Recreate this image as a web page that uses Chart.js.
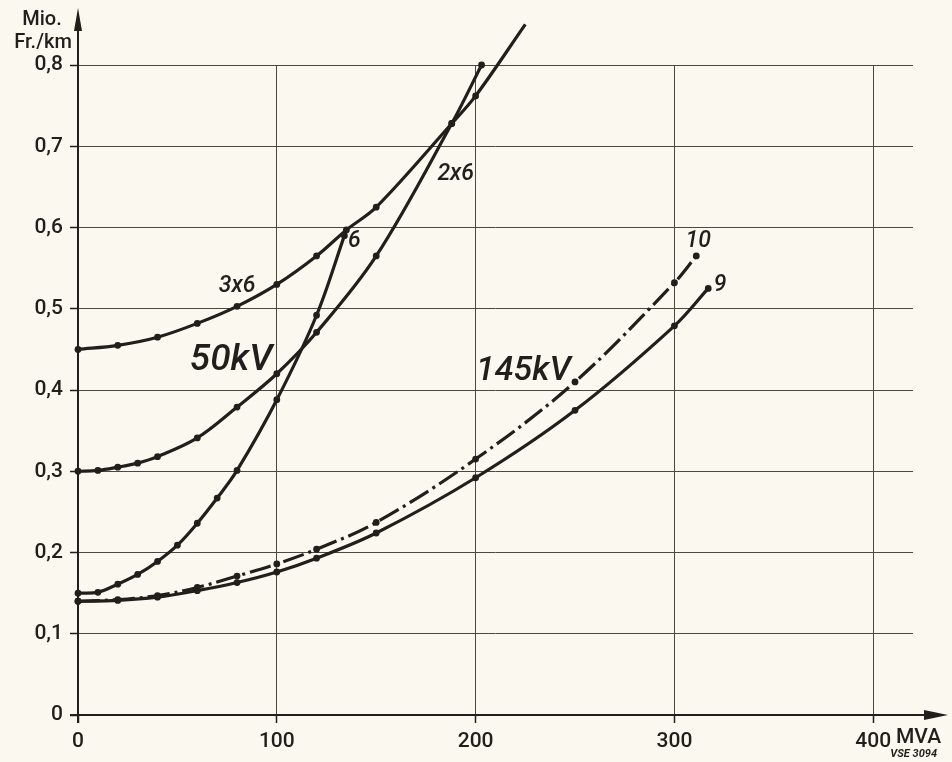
<!DOCTYPE html>
<html>
<head>
<meta charset="utf-8">
<title>Mio. Fr./km – MVA</title>
<script src="https://cdn.jsdelivr.net/npm/chart.js@4/dist/chart.umd.min.js"></script>
<style>
  html, body { margin: 0; padding: 0; background: #fbf8ef; }
  #wrap { width: 952px; height: 762px; }
</style>
</head>
<body>
<div id="wrap"><canvas id="chart" width="952" height="762"></canvas></div>
<script>
// axis ticks
const xTicks = [0, 100, 200, 300, 400];
const yTicks = [0, 0.1, 0.2, 0.3, 0.4, 0.5, 0.6, 0.7, 0.8];

// 50 kV, 3x6
const x3x6 = [0, 20, 40, 60, 80, 100, 120, 135, 150, 188, 200, 225];
const y3x6 = [0.45, 0.455, 0.465, 0.482, 0.503, 0.53, 0.565, 0.597, 0.625, 0.728, 0.762, 0.85];

// 50 kV, 2x6
const x2x6 = [0, 10, 20, 30, 40, 60, 80, 100, 120, 150, 188, 203];
const y2x6 = [0.30, 0.301, 0.305, 0.31, 0.318, 0.341, 0.379, 0.42, 0.471, 0.565, 0.728, 0.80];

// 50 kV, 6
const x6 = [0, 10, 20, 30, 40, 50, 60, 70, 80, 100, 120, 134];
const y6 = [0.15, 0.151, 0.161, 0.173, 0.189, 0.209, 0.236, 0.267, 0.301, 0.388, 0.492, 0.59];

// 145 kV, 10
const x10 = [0, 20, 40, 60, 80, 100, 120, 150, 200, 250, 300, 311];
const y10 = [0.14, 0.142, 0.147, 0.157, 0.171, 0.186, 0.204, 0.237, 0.315, 0.41, 0.532, 0.565];

// 145 kV, 9
const x9 = [0, 20, 40, 60, 80, 100, 120, 150, 200, 250, 300, 317];
const y9 = [0.14, 0.141, 0.145, 0.153, 0.163, 0.176, 0.193, 0.224, 0.292, 0.375, 0.479, 0.525];

// curve captions, placed in data units
const captions = [
  { text: '3x6', x: 80, y: 0.528, size: 23 },
  { text: '50kV', x: 77, y: 0.436, size: 37 },
  { text: '6', x: 139, y: 0.583, size: 23 },
  { text: '2x6', x: 190, y: 0.665, size: 23 },
  { text: '145kV', x: 224, y: 0.423, size: 34 },
  { text: '10', x: 312, y: 0.583, size: 23 },
  { text: '9', x: 323, y: 0.529, size: 23 }
];

const INK = '#221e1b';
const GRID = '#4f463e';
const FONT = 'Roboto, "DejaVu Sans", sans-serif';

function points(xs, ys) {
  return xs.map((x, i) => ({ x: x, y: ys[i] }));
}

function curve(label, xs, ys, dash) {
  return {
    label: label,
    data: points(xs, ys),
    borderColor: INK,
    backgroundColor: INK,
    borderWidth: 3.2,
    borderDash: dash || [],
    pointRadius: 1.8,
    pointHoverRadius: 1.8,
    tension: 0.35,
    fill: false,
    clip: false
  };
}

// paper colour behind everything
const paper = {
  id: 'paper',
  beforeDraw(chart) {
    const ctx = chart.ctx;
    ctx.save();
    ctx.fillStyle = '#fbf8ef';
    ctx.fillRect(0, 0, chart.width, chart.height);
    ctx.restore();
  }
};

// axis arrows, unit texts and curve captions
const decorations = {
  id: 'decorations',
  afterDraw(chart) {
    const ctx = chart.ctx;
    const xs = chart.scales.x;
    const ys = chart.scales.y;
    const x0 = xs.getPixelForValue(0);
    const y0 = ys.getPixelForValue(0);

    ctx.save();
    ctx.strokeStyle = INK;
    ctx.fillStyle = INK;
    ctx.lineWidth = 2;

    // y axis with arrow
    ctx.beginPath();
    ctx.moveTo(x0, y0 + 8);
    ctx.lineTo(x0, 14);
    ctx.stroke();
    ctx.beginPath();
    ctx.moveTo(x0, 8);
    ctx.lineTo(x0 - 4, 31);
    ctx.lineTo(x0 + 4, 31);
    ctx.closePath();
    ctx.fill();

    // x axis with arrow
    ctx.beginPath();
    ctx.moveTo(x0 - 8, y0);
    ctx.lineTo(942, y0);
    ctx.stroke();
    ctx.beginPath();
    ctx.moveTo(948, y0);
    ctx.lineTo(924, y0 - 5);
    ctx.lineTo(924, y0 + 5);
    ctx.closePath();
    ctx.fill();

    // units
    ctx.font = '500 20px ' + FONT;
    ctx.textAlign = 'center';
    ctx.textBaseline = 'middle';
    ctx.fillText('Mio.', 42, 20);
    ctx.fillText('Fr./km', 43, 43);

    ctx.font = '500 21px ' + FONT;
    ctx.textAlign = 'left';
    ctx.fillText('MVA', 896, 738);

    ctx.font = 'italic bold 11px ' + FONT;
    ctx.textAlign = 'right';
    ctx.fillText('VSE 3094', 937, 754);

    // captions
    ctx.textAlign = 'center';
    captions.forEach(c => {
      ctx.font = 'italic 500 ' + c.size + 'px ' + FONT;
      ctx.fillText(c.text, xs.getPixelForValue(c.x), ys.getPixelForValue(c.y));
    });
    ctx.restore();
  }
};

const chart = new Chart(document.getElementById('chart'), {
  type: 'line',
  data: {
    datasets: [
      curve('3x6', x3x6, y3x6),
      curve('2x6', x2x6, y2x6),
      curve('6', x6, y6),
      curve('10', x10, y10, [22, 5, 3, 5]),
      curve('9', x9, y9)
    ]
  },
  options: {
    responsive: false,
    animation: false,
    events: [],
    layout: {
      padding: { top: 65, right: 39, bottom: 0, left: 0 }
    },
    plugins: {
      legend: { display: false },
      tooltip: { enabled: false }
    },
    scales: {
      x: {
        type: 'linear',
        min: 0,
        max: 420,
        afterBuildTicks: (scale) => {
          scale.ticks = xTicks.map(v => ({ value: v }));
        },
        afterFit: (scale) => {
          scale.height = 47;
        },
        border: { display: false },
        grid: {
          color: GRID,
          lineWidth: 1,
          tickLength: 8,
          tickColor: INK,
          tickWidth: 1.5
        },
        ticks: {
          color: INK,
          padding: 6,
          maxRotation: 0,
          font: { family: FONT, size: 21, weight: '500' },
          callback: (v) => String(v)
        }
      },
      y: {
        type: 'linear',
        min: 0,
        max: 0.8,
        afterBuildTicks: (scale) => {
          scale.ticks = yTicks.map(v => ({ value: v }));
        },
        afterFit: (scale) => {
          scale.width = 78;
        },
        border: { display: false },
        grid: {
          color: GRID,
          lineWidth: 1,
          tickLength: 8,
          tickColor: INK,
          tickWidth: 1.5
        },
        ticks: {
          color: INK,
          padding: 7,
          font: { family: FONT, size: 21, weight: '500' },
          callback: (v) => v === 0 ? '0' : v.toFixed(1).replace('.', ',')
        }
      }
    }
  },
  plugins: [paper, decorations]
});
</script>
</body>
</html>
